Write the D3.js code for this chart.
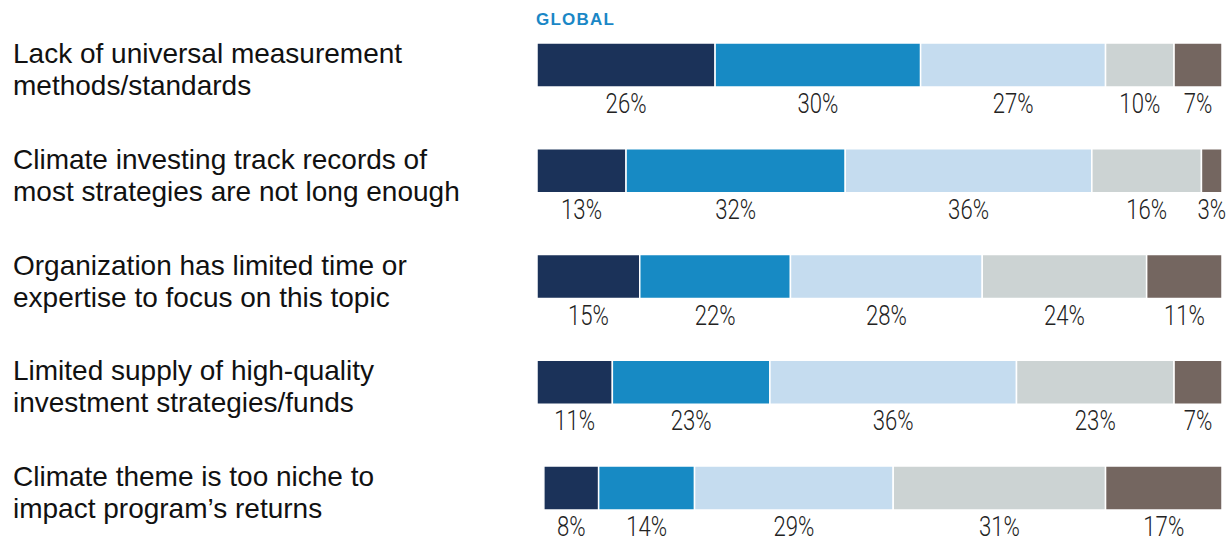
<!DOCTYPE html>
<html>
<head>
<meta charset="utf-8">
<script src="https://cdn.jsdelivr.net/npm/d3@7"></script>
<style>
  html, body { margin: 0; padding: 0; background: #fff; }
  svg { display: block; }
</style>
</head>
<body>
<svg id="chart" width="1227" height="539"></svg>
<script>
// Survey barriers: share of responses per answer level (left to right)
const categories = [
  ["Lack of universal measurement", "methods/standards"],
  ["Climate investing track records of", "most strategies are not long enough"],
  ["Organization has limited time or", "expertise to focus on this topic"],
  ["Limited supply of high-quality", "investment strategies/funds"],
  ["Climate theme is too niche to", "impact program\u2019s returns"]
];
const level1 = [26, 13, 15, 11, 8];
const level2 = [30, 32, 22, 23, 14];
const level3 = [27, 36, 28, 36, 29];
const level4 = [10, 16, 24, 23, 31];
const level5 = [7, 3, 11, 7, 17];
const seriesTitle = "GLOBAL";
const colors = ["#1b3259", "#178ac4", "#c5dcef", "#ccd3d3", "#746660"];

const svg = d3.select("#chart");
const barRight = 1222;
const x = d3.scaleLinear().domain([0, 100]).range([0, 685]);
const y = d3.scalePoint().domain(d3.range(categories.length)).range([43, 466]);
const barH = 44;

const levels = [level1, level2, level3, level4, level5];
const rows = categories.map((c, i) => {
  const vals = levels.map(l => l[i]);
  const total = d3.sum(vals);
  let acc = barRight - x(total);
  const segs = vals.map((v, k) => {
    const s = { v, k, x0: acc, x1: acc + x(v) };
    acc = s.x1;
    return s;
  });
  return { i, lines: c, segs };
});

svg.append("text")
  .attr("x", 536).attr("y", 25)
  .attr("fill", "#1a87c6")
  .style("font-family", "'Liberation Sans', Arial, sans-serif")
  .style("font-weight", "bold")
  .style("font-size", "17px")
  .style("letter-spacing", "1.2px")
  .text(seriesTitle);

const g = svg.selectAll("g.row").data(rows).join("g")
  .attr("class", "row")
  .attr("transform", d => `translate(0,${y(d.i)})`);

g.selectAll("text.cat").data(d => d.lines).join("text")
  .attr("class", "cat")
  .attr("x", 13)
  .attr("y", (d, j) => 20 + j * 32)
  .attr("fill", "#111")
  .style("font-family", "'Liberation Sans', Arial, sans-serif")
  .style("font-size", "28px")
  .text(d => d);

g.selectAll("rect").data(d => d.segs).join("rect")
  .attr("x", d => d.x0)
  .attr("y", 0)
  .attr("width", d => d.x1 - d.x0)
  .attr("height", barH)
  .attr("fill", d => colors[d.k])
  .attr("stroke", "#fff")
  .attr("stroke-width", 1.5);

// value labels in a light, horizontally condensed face
g.selectAll("text.val").data(d => d.segs).join("text")
  .attr("class", "val")
  .attr("transform", d => `translate(${(d.x0 + d.x1) / 2},${barH + 26}) scale(0.82,1)`)
  .attr("text-anchor", "middle")
  .attr("fill", "#222")
  .style("font-family", "Roboto, sans-serif")
  .style("font-weight", "300")
  .style("font-size", "27px")
  .text(d => d.v + "%");
</script>
</body>
</html>
